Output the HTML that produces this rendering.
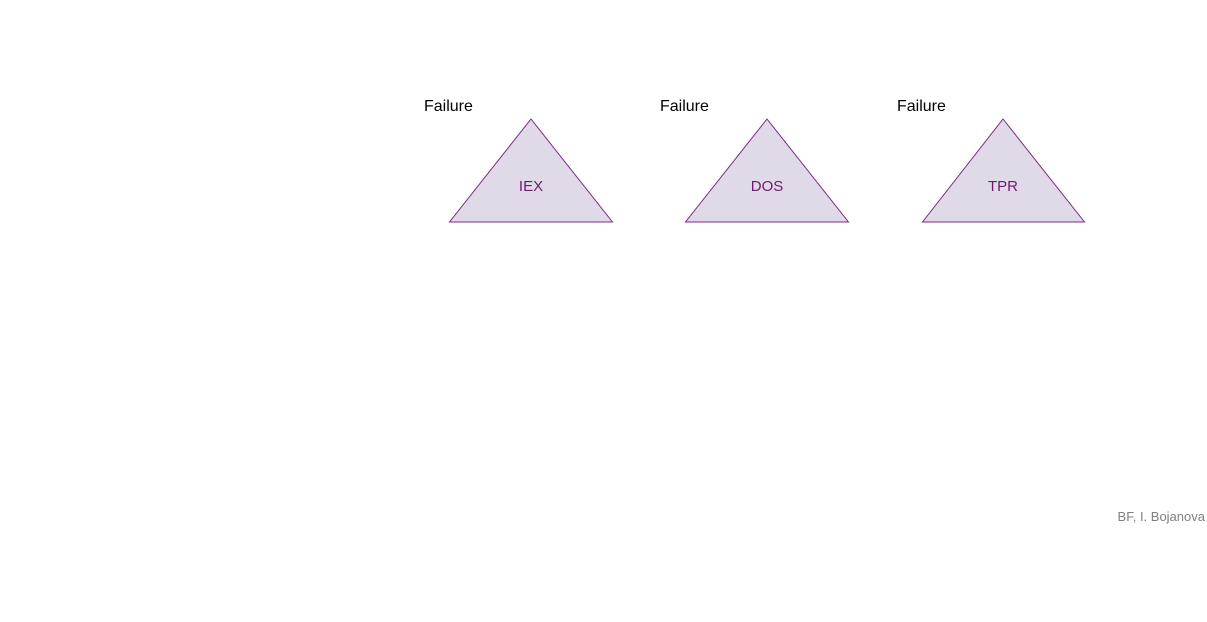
<!DOCTYPE html>
<html><head><style>
body{margin:0;width:1207px;height:617px;background:#fff;overflow:hidden;font-family:"Liberation Sans",sans-serif;}
</style></head><body>
<svg width="1207" height="617" xmlns="http://www.w3.org/2000/svg" font-family="Liberation Sans, sans-serif">
<g fill="#dfd9e8" stroke="#7b2c7f" stroke-width="1">
<polygon points="531,119 449.5,222 612.5,222"/>
<polygon points="767,119 685.5,222 848.5,222"/>
<polygon points="1003,119 922.5,222 1084.5,222"/>
</g>
<g font-size="16" fill="#000">
<text x="424" y="111">Failure</text>
<text x="660" y="111">Failure</text>
<text x="897" y="111">Failure</text>
</g>
<g font-size="15" fill="#6e1a6e" text-anchor="middle">
<text x="531" y="191">IEX</text>
<text x="767" y="191">DOS</text>
<text x="1003" y="191">TPR</text>
</g>
<text x="1205" y="521" font-size="13" fill="#808080" text-anchor="end">BF, I. Bojanova</text>
</svg>
</body></html>
